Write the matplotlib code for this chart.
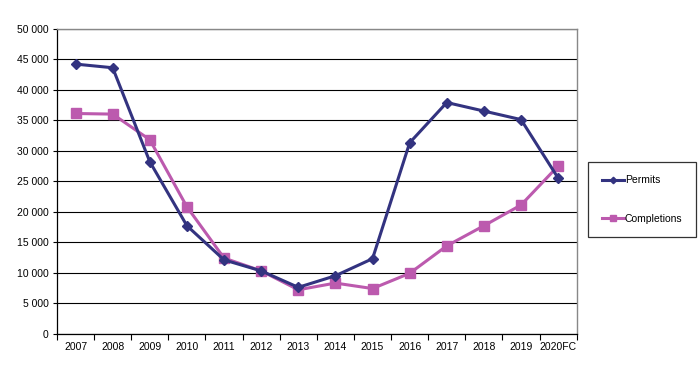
import matplotlib.pyplot as plt
from matplotlib.ticker import FuncFormatter, FixedLocator

years = ["2007", "2008", "2009", "2010", "2011", "2012", "2013",
         "2014", "2015", "2016", "2017", "2018", "2019", "2020FC"]
permits = [44200, 43600, 28200, 17700, 12100, 10300, 7600,
           9500, 12300, 31300, 37900, 36500, 35100, 25500]
completions = [36100, 36000, 31800, 20800, 12400, 10300, 7200,
               8300, 7400, 9900, 14400, 17700, 21100, 27500]

PERMIT_COLOR = "#333380"
COMPL_COLOR = "#BC5AAE"


def main():
    plt.rcParams["font.family"] = ["Liberation Sans", "DejaVu Sans"]
    plt.rcParams["font.size"] = 7.5

    fig = plt.figure(figsize=(7, 3.7), dpi=100)
    ax = fig.add_axes([0.0814, 0.0981, 0.7425, 0.8243])

    x = list(range(len(years)))

    # horizontal grid lines in black, drawn below the data
    ax.set_axisbelow(True)
    ax.yaxis.grid(True, color="black", linewidth=0.8)

    ax.plot(x, permits, color=PERMIT_COLOR, linewidth=2.2, marker="D",
            markersize=5.5, label="Permits", zorder=3)
    ax.plot(x, completions, color=COMPL_COLOR, linewidth=2.2, marker="s",
            markersize=7, label="Completions", zorder=2)

    ax.set_xlim(-0.5, len(years) - 0.5)
    ax.set_ylim(0, 50000)
    ax.set_yticks(range(0, 50001, 5000))
    ax.yaxis.set_major_formatter(
        FuncFormatter(lambda v, p: f"{int(v):,}".replace(",", " ")))

    # ticks on category boundaries, labels at category centres
    ax.xaxis.set_major_locator(FixedLocator([i - 0.5 for i in range(len(years) + 1)]))
    ax.xaxis.set_major_formatter(FuncFormatter(lambda v, p: ""))
    ax.xaxis.set_minor_locator(FixedLocator(x))
    ax.set_xticklabels(years, minor=True)
    ax.tick_params(axis="x", which="major", length=4, width=0.8, color="black")
    ax.tick_params(axis="x", which="minor", length=0, pad=6)
    ax.tick_params(axis="y", length=3, width=0.8, pad=3)

    for side in ["top", "right"]:
        ax.spines[side].set_color("#888888")
        ax.spines[side].set_linewidth(1)
    for side in ["left", "bottom"]:
        ax.spines[side].set_color("black")
        ax.spines[side].set_linewidth(0.9)

    leg = fig.legend(loc="center", bbox_to_anchor=(642 / 700, 1 - 199.5 / 370),
                     frameon=True, fancybox=False, edgecolor="black",
                     handlelength=2.1, handletextpad=0.1, labelspacing=2.7,
                     borderpad=1.3, borderaxespad=0, markerscale=0.6)
    leg.get_frame().set_linewidth(0.9)

    fig.savefig("out.png", dpi=100)
    plt.close(fig)


if __name__ == "__main__":
    main()
